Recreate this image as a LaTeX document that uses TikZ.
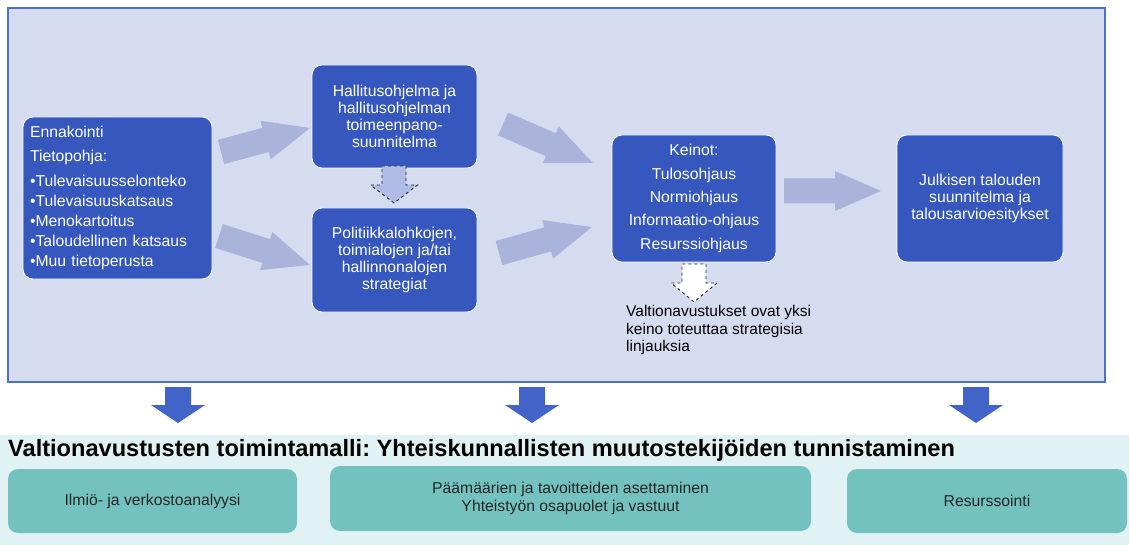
\documentclass[tikz,border=0pt]{standalone}
\usepackage{fontspec}
\setmainfont{Liberation Sans}
\usetikzlibrary{calc,positioning}
\frenchspacing

\definecolor{panelfill}{HTML}{D6DCF0}
\definecolor{panelline}{HTML}{4A72C8}
\definecolor{boxblue}{HTML}{3557BE}
\definecolor{palearrow}{HTML}{AAB4DA}
\definecolor{dashfill}{HTML}{AEBCE6}
\definecolor{downblue}{HTML}{4263C8}
\definecolor{bandfill}{HTML}{E1F2F4}
\definecolor{tealbox}{HTML}{74C2C0}
\definecolor{tealtext}{HTML}{262626}

% block arrow: [style]{tail}{tip}{half shaft}{half head}{head length}
\newcommand{\fatarrow}[6][]{%
  \coordinate (fa-h) at ($#3!#6!#2$);
  \path[#1] ($#2!#4!90:#3$) -- ($(fa-h)!#4!90:#3$) -- ($(fa-h)!#5!90:#3$) -- #3
    -- ($(fa-h)!#5!-90:#3$) -- ($(fa-h)!#4!-90:#3$) -- ($#2!#4!-90:#3$) -- cycle;}

\begin{document}
\begin{tikzpicture}[x=1pt,y=-1pt,
    bluebox/.style={draw=white, line width=0.8pt, fill=boxblue, rounded corners=10pt,
      text=white, align=center, inner sep=0pt, font=\fontsize{15.75}{17}\selectfont},
    tealbx/.style={fill=tealbox, rounded corners=10pt, text=tealtext, align=center,
      inner sep=0pt, font=\fontsize{15.75}{18}\selectfont},
    palearr/.style={fill=palearrow},
    dasharr/.style={draw=black!85, dashed, line width=0.9pt},
    downarr/.style={fill=downblue}]
\useasboundingbox (0,0) rectangle (1129,545);

\fill[bandfill] (0,435) rectangle (1129,545);
\draw[panelline, fill=panelfill, line width=1.2pt] (8,8) rectangle (1105,382);

\node[bluebox, minimum height=162pt, text width=175pt, inner xsep=7pt, align=left,
  font=\fontsize{15.75}{20}\selectfont] (ennak) at (117.5,198)
  {Ennakointi\\[4pt]Tietopohja:\\[5pt]•Tulevaisuusselonteko\\•Tulevaisuuskatsaus\\
   •Menokartoitus\\•Taloudellinen katsaus\\•Muu tietoperusta};
\node[bluebox, minimum width=165pt, minimum height=103pt] (hallitus) at (394.5,116.5)
  {Hallitusohjelma ja\\hallitusohjelman\\toimeenpano-\\suunnitelma};
\node[bluebox, minimum width=165pt, minimum height=104pt] (politiikka) at (394.5,260)
  {Politiikkalohkojen,\\toimialojen ja/tai\\hallinnonalojen\\strategiat};
\node[bluebox, minimum width=164pt, minimum height=127pt,
  font=\fontsize{15.75}{23.3}\selectfont] (keinot) at (694,198.5)
  {Keinot:\\Tulosohjaus\\Normiohjaus\\Informaatio-ohjaus\\Resurssiohjaus};
\node[bluebox, minimum width=166pt, minimum height=127pt] (julkinen) at (980,198.5)
  {Julkisen talouden\\suunnitelma ja\\talousarvioesitykset};
\node[anchor=west, align=left, inner sep=0pt, font=\fontsize{15.5}{17.5}\selectfont]
  (valtion) at (626,330)
  {Valtionavustukset ovat yksi\\keino toteuttaa strategisia\\linjauksia};

\coordinate (a1s) at (221,152);  \coordinate (a1e) at (310,128);
\coordinate (a2s) at (219,236);  \coordinate (a2e) at (310,265);
\coordinate (a3s) at (503,124);  \coordinate (a3e) at (593,163);
\coordinate (a4s) at (499,253);  \coordinate (a4e) at (592,227);
\coordinate (a5s) at (784,191);  \coordinate (a5e) at (881,191);
\foreach \i in {1,...,5}
  \fatarrow[palearr]{(a\i s)}{(a\i e)}{12.5pt}{20pt}{46pt};

\coordinate (d1s) at (394,166);  \coordinate (d1e) at (394,203);
\fatarrow[dasharr, fill=dashfill]{(d1s)}{(d1e)}{12pt}{23.5pt}{18pt};
\coordinate (d2s) at (694,264);  \coordinate (d2e) at (694,302);
\fatarrow[dasharr, fill=white]{(d2s)}{(d2e)}{12pt}{23pt}{19pt};

\foreach \x [count=\i] in {178,532,976} {
  \coordinate (dn\i s) at (\x,387);
  \coordinate (dn\i e) at (\x,423);
  \fatarrow[downarr]{(dn\i s)}{(dn\i e)}{13pt}{27pt}{18pt};
}

\node[anchor=west, inner sep=0pt, font=\fontsize{23.6}{26}\bfseries] (titel) at (8,450)
  {Valtionavustusten toimintamalli: Yhteiskunnallisten muutostekijöiden tunnistaminen};

\node[tealbx, minimum width=289pt, minimum height=64pt] (ilmio) at (152.5,501)
  {Ilmiö- ja verkostoanalyysi};
\node[tealbx, minimum width=481pt, minimum height=65pt] (paamaara) at (570.5,498.5)
  {Päämäärien ja tavoitteiden asettaminen\\Yhteistyön osapuolet ja vastuut};
\node[tealbx, minimum width=280pt, minimum height=64pt] (resurssi) at (987,501)
  {Resurssointi};
\end{tikzpicture}
\end{document}
